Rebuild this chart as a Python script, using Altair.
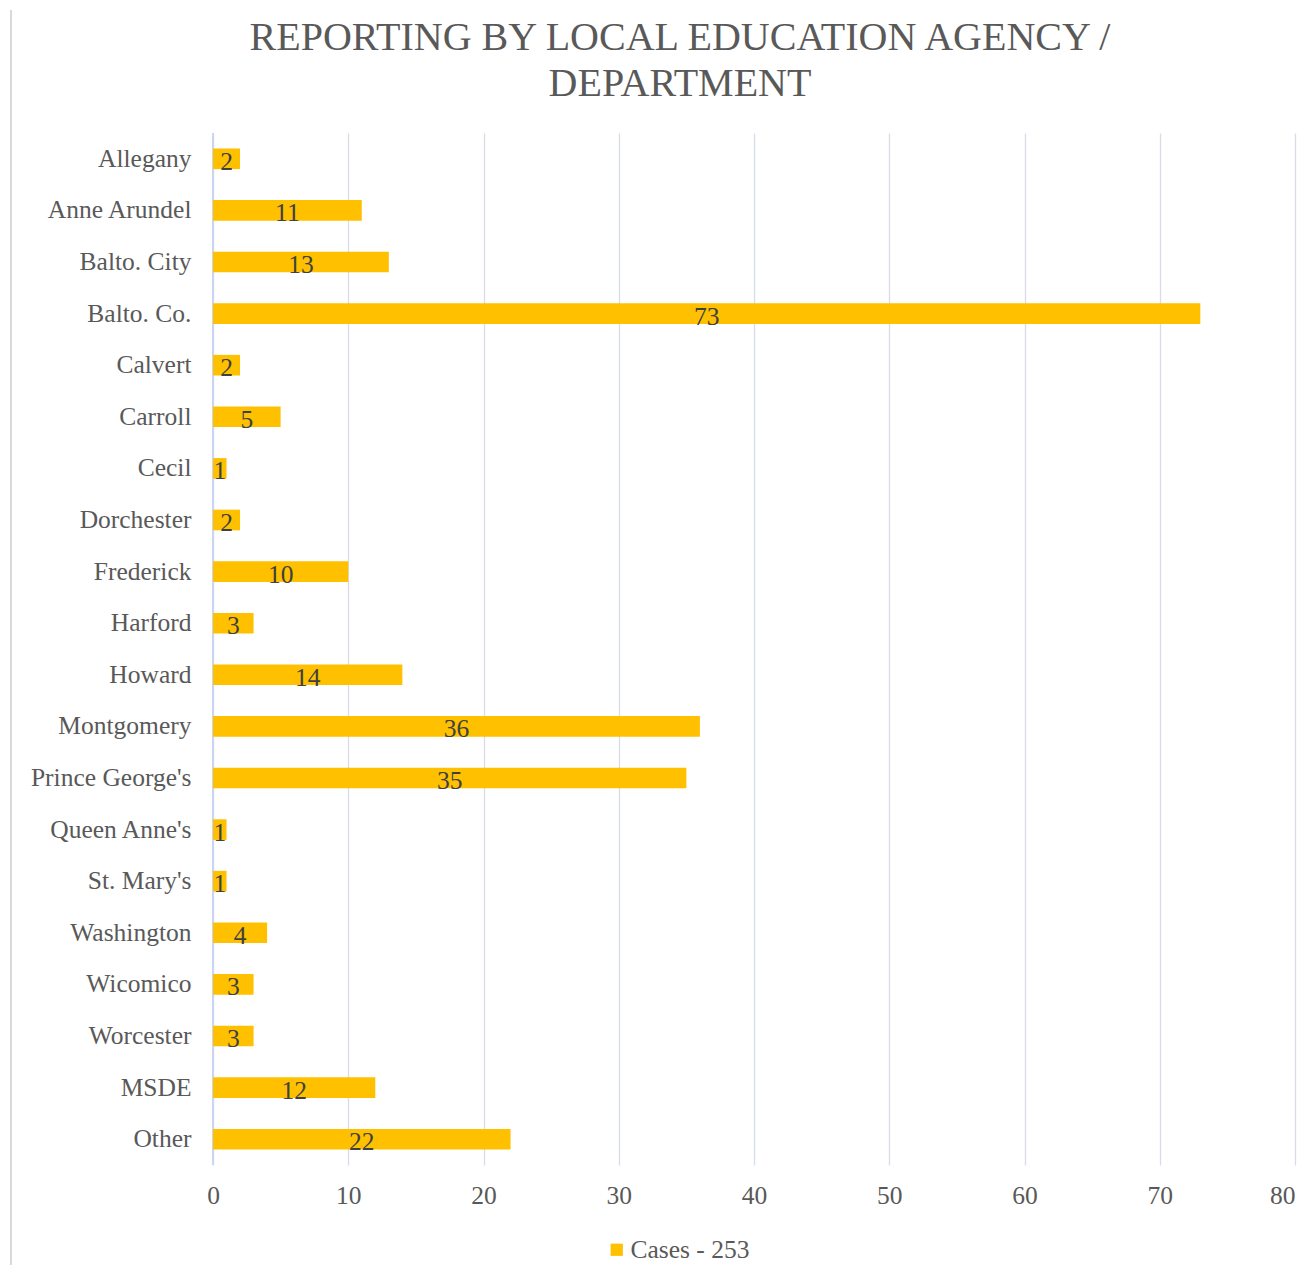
import altair as alt
import pandas as pd

agencies = ["Allegany", "Anne Arundel", "Balto. City", "Balto. Co.", "Calvert", "Carroll",
            "Cecil", "Dorchester", "Frederick", "Harford", "Howard", "Montgomery",
            "Prince George's", "Queen Anne's", "St. Mary's", "Washington", "Wicomico",
            "Worcester", "MSDE", "Other"]
cases = [2, 11, 13, 73, 2, 5, 1, 2, 10, 3, 14, 36, 35, 1, 1, 4, 3, 3, 12, 22]
series_name = "Cases - 253"
x_ticks = [0, 10, 20, 30, 40, 50, 60, 70, 80]
title_line1 = "REPORTING BY LOCAL EDUCATION AGENCY /"
title_line2 = "DEPARTMENT"

df = pd.DataFrame({"agency": agencies, "cases": cases, "series": [series_name] * len(agencies)})

FONT = "Liberation Serif"
GREY = "#595959"
FS = 25.5

y_enc = alt.Y("agency:N", sort=agencies, title=None,
              scale=alt.Scale(paddingInner=0.6, paddingOuter=0.3),
              axis=alt.Axis(labelFont=FONT, labelFontSize=FS, labelColor=GREY,
                            labelPadding=22, ticks=False, domain=False, grid=False))
x_enc = alt.X("cases:Q", title=None,
              scale=alt.Scale(domain=[0, 80], nice=False),
              axis=alt.Axis(values=x_ticks, labelFont=FONT, labelFontSize=FS, labelColor=GREY,
                            labelPadding=18, labelFlush=False, ticks=False, domain=False,
                            labelAlign={"condition": {"test": "datum.value >= 80", "value": "right"},
                                        "value": "center"},
                            grid=True, gridColor="#d8dce6", gridWidth=1.3))

bars = alt.Chart(df).mark_bar(color="#FFC000").encode(
    y=y_enc, x=x_enc,
    color=alt.Color("series:N", scale=alt.Scale(range=["#FFC000"]),
                    legend=alt.Legend(title=None, orient="none", legendX=391, legendY=1104,
                                      symbolType="square", symbolSize=150, labelFont=FONT,
                                      labelFontSize=FS, labelColor=GREY, symbolStrokeWidth=0,
                                      labelOffset=1))
)

labels = alt.Chart(df).mark_text(font=FONT, fontSize=FS, color="#404040", baseline="middle", dy=3).encode(
    y=alt.Y("agency:N", sort=agencies),
    x=alt.X("mid:Q"),
    text=alt.Text("cases:Q"),
).transform_calculate(mid="datum.cases / 2")

zero = alt.Chart(df).mark_rule(color="#c8d5f2", strokeWidth=1.5).encode(
    x=alt.datum(0), y=alt.value(0), y2=alt.value(1032)
)

border = alt.Chart(df).mark_rule(color="#d9d9d9", strokeWidth=1.5).encode(
    x=alt.value(-202), y=alt.value(-123), y2=alt.value(1140)
)

t1 = alt.Chart(pd.DataFrame({"line": [title_line1]})).mark_text(
    font=FONT, fontSize=40, color=GREY, baseline="middle", align="center").encode(
    x=alt.value(467), y=alt.value(-95), text="line:N")
t2 = alt.Chart(pd.DataFrame({"line": [title_line2]})).mark_text(
    font=FONT, fontSize=40, color=GREY, baseline="middle", align="center").encode(
    x=alt.value(467), y=alt.value(-49), text="line:N")

chart = alt.layer(zero, bars, labels, border, t1, t2).properties(
    width=1082, height=1032,
    autosize=alt.AutoSizeParams(type="none"),
    padding={"left": 205, "top": 125, "right": 8, "bottom": 100},
).configure_view(stroke=None)

chart.save("out.html", embed_options={"renderer": "svg", "actions": False})
